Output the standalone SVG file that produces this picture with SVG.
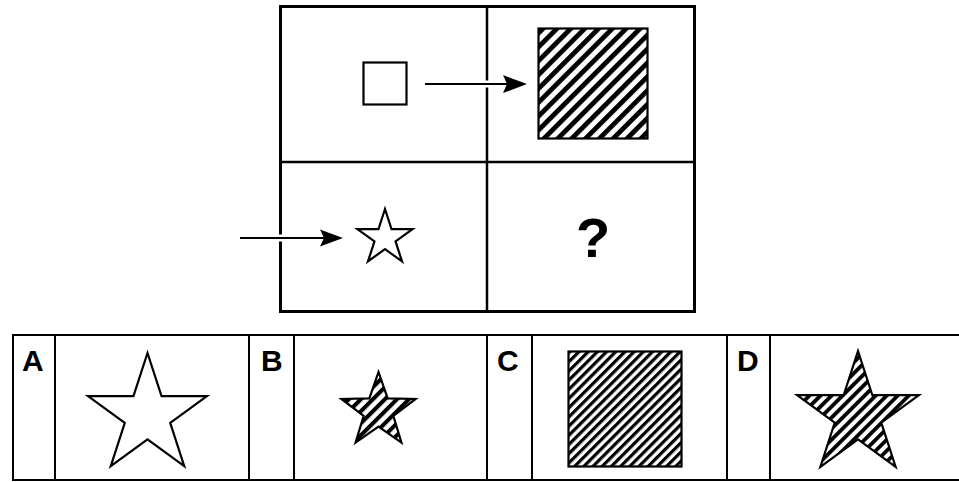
<svg xmlns="http://www.w3.org/2000/svg" width="959" height="482" viewBox="0 0 959 482">
<style>
.frame{fill:none;stroke:#000;stroke-width:3}
.line{stroke:#000;stroke-width:2.5}
.thin{stroke:#000;stroke-width:2}
.shape{stroke:#000;stroke-width:2.2;stroke-linejoin:miter}
.lbl{font-family:"Liberation Sans",Arial,sans-serif;font-weight:bold;fill:#000}
.arrow{stroke:#000;stroke-width:2.2}
.halo{stroke:#fff;stroke-width:7}
</style>
<defs>
<pattern id="h1" patternUnits="userSpaceOnUse" width="9.8" height="20" patternTransform="rotate(45)"><rect width="9.8" height="20" fill="#fff"/><rect width="4.8" height="20" fill="#000"/></pattern>
<pattern id="hC" patternUnits="userSpaceOnUse" width="6.5" height="20" patternTransform="rotate(45)"><rect width="6.5" height="20" fill="#fff"/><rect width="3.2" height="20" fill="#000"/></pattern>
<pattern id="hD" patternUnits="userSpaceOnUse" width="7.8" height="20" patternTransform="rotate(45)"><rect width="7.8" height="20" fill="#fff"/><rect width="3.8" height="20" fill="#000"/></pattern>
<pattern id="hB" patternUnits="userSpaceOnUse" width="8.5" height="20" patternTransform="rotate(45)"><rect width="8.5" height="20" fill="#fff"/><rect width="4" height="20" fill="#000"/></pattern>
</defs>
<rect width="959" height="482" fill="#fff"/>
<g id="grid">
<rect class="frame" x="280.5" y="6.5" width="414" height="305"/>
<line class="line" x1="487" y1="6.5" x2="487" y2="311.5"/>
<line class="line" x1="280.5" y1="162" x2="694.5" y2="162"/>
</g>
<g id="small-square"><rect class="shape" x="363.5" y="62.5" width="43" height="42" fill="#fff"/></g>
<g id="hatched-square"><rect class="shape" x="538.5" y="28.5" width="109" height="110" fill="url(#h1)"/></g>
<g id="small-star"><polygon class="shape" fill="#fff" points="385,209 391.51,229.04 412.58,229.04 395.54,241.42 402.05,261.46 385,249.08 367.95,261.46 374.46,241.42 357.42,229.04 378.49,229.04"/></g>
<g id="question"><text class="lbl" x="593" y="257" font-size="56" text-anchor="middle">?</text></g>
<g id="connectors">
<line class="halo" x1="478" y1="84" x2="496" y2="84"/>
<line class="arrow" x1="425" y1="84" x2="510" y2="84"/>
<polygon points="503,75 527,84 503,93 507,84" fill="#000"/>
<line class="halo" x1="271" y1="238" x2="290" y2="238"/>
<line class="arrow" x1="240" y1="238" x2="326" y2="238"/>
<polygon points="320,229.5 343,238 320,246.5 324,238" fill="#000"/>
</g>
<g id="options-frame">
<rect class="thin" x="13" y="335" width="960" height="145" fill="none"/>
<line class="thin" x1="55" y1="335" x2="55" y2="480"/>
<line class="thin" x1="249" y1="335" x2="249" y2="480"/>
<line class="thin" x1="294" y1="335" x2="294" y2="480"/>
<line class="thin" x1="487" y1="335" x2="487" y2="480"/>
<line class="thin" x1="532" y1="335" x2="532" y2="480"/>
<line class="thin" x1="727" y1="335" x2="727" y2="480"/>
<line class="thin" x1="770" y1="335" x2="770" y2="480"/>
</g>
<g id="option-A">
<text class="lbl" x="22" y="371" font-size="30">A</text>
<polygon class="shape" fill="#fff" points="147.5,353 161.54,396.18 206.94,396.19 170.21,422.88 184.24,466.06 147.5,439.38 110.76,466.06 124.79,422.88 88.06,396.19 133.46,396.18"/>
</g>
<g id="option-B">
<text class="lbl" x="261" y="371" font-size="30">B</text>
<polygon class="shape" fill="url(#hB)" points="378.5,372 387.67,398.38 415.59,398.95 393.34,415.82 401.42,442.55 378.5,426.6 355.58,442.55 363.66,415.82 341.41,398.95 369.33,398.38"/>
</g>
<g id="option-C">
<text class="lbl" x="497" y="371" font-size="30">C</text>
<rect class="shape" x="568.5" y="351.5" width="113" height="115" fill="url(#hC)"/>
</g>
<g id="option-D">
<text class="lbl" x="737" y="371" font-size="30">D</text>
<polygon class="shape" fill="url(#hD)" points="858,351 872.37,395.22 918.87,395.22 881.25,422.56 895.62,466.78 858,439.45 820.38,466.78 834.75,422.56 797.13,395.22 843.63,395.22"/>
</g>
</svg>
